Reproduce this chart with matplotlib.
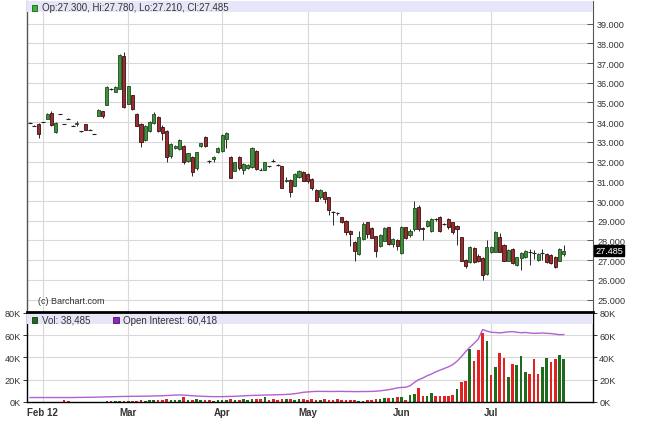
import matplotlib
matplotlib.use('Agg')
import matplotlib.pyplot as plt
import matplotlib.transforms as mtransforms
from matplotlib.patches import Rectangle
import numpy as np

plt.rcParams['font.family'] = ['Liberation Sans', 'DejaVu Sans']

# ---------------- data ----------------
opens = [33.98, 33.82, 33.91, 34.01, 34.17, 34.47, 33.49, 34.42, 33.91, 34.17,
         33.83, 33.90, 33.54, 33.91, 33.62, 33.40, 34.33, 34.55, 34.89, 35.69,
         35.55, 35.70, 37.35, 34.93, 35.38, 34.40, 33.91, 33.11, 33.57, 33.96,
         34.25, 33.74, 33.57, 32.30, 32.68, 32.64, 32.81, 32.05, 32.25, 31.66,
         32.77, 33.25, 32.05, 32.12, 32.48, 32.54, 33.15, 32.25, 31.54, 32.25,
         31.60, 31.68, 31.72, 32.56, 31.60, 31.59, 31.76, 32.05, 31.83, 31.76,
         31.00, 31.05, 30.78, 31.21, 31.49, 31.37, 31.12, 30.58, 30.19, 30.48,
         30.19, 29.46, 29.40, 29.18, 29.00, 28.50, 27.90, 27.31, 28.08, 28.93,
         28.63, 28.21, 27.71, 27.99, 28.67, 27.82, 28.00, 27.37, 28.67, 28.30,
         28.58, 29.69, 28.65, 28.75, 28.50, 29.08, 29.20, 28.84, 29.09, 28.92,
         28.75, 28.16, 27.03, 26.93, 27.60, 27.23, 27.10, 26.30, 27.40, 27.43,
         28.16, 27.77, 26.98, 27.57, 26.76, 27.10, 27.14, 27.43, 27.38, 27.00,
         27.35, 27.31, 27.25, 27.14, 26.98, 27.30]
highs = [34.00, 33.84, 33.95, 34.03, 34.47, 34.55, 34.00, 34.44, 33.93, 34.19,
         33.85, 34.05, 33.56, 33.93, 33.64, 33.42, 34.66, 34.57, 35.82, 35.72,
         35.82, 37.45, 37.55, 35.85, 35.40, 34.45, 33.95, 33.88, 34.05, 34.50,
         34.30, 33.86, 33.62, 32.95, 32.85, 33.15, 32.85, 32.45, 32.30, 32.50,
         32.97, 33.28, 32.10, 32.30, 32.72, 33.40, 33.50, 32.30, 32.00, 32.30,
         31.95, 31.86, 32.72, 32.60, 31.68, 32.00, 31.78, 32.12, 31.90, 31.80,
         31.20, 31.10, 31.40, 31.57, 31.52, 31.40, 31.15, 30.62, 30.60, 30.50,
         30.22, 29.50, 29.45, 29.20, 29.05, 28.55, 27.95, 28.50, 28.95, 28.95,
         28.70, 28.25, 28.32, 28.66, 28.70, 28.10, 28.05, 28.72, 28.70, 28.60,
         30.00, 29.80, 28.70, 29.05, 29.12, 29.15, 29.25, 28.90, 29.12, 28.95,
         28.80, 28.20, 27.05, 27.70, 27.65, 27.30, 27.15, 28.00, 27.70, 28.50,
         28.40, 27.80, 27.57, 27.60, 27.17, 27.40, 27.52, 27.57, 27.50, 27.35,
         27.55, 27.35, 27.30, 27.20, 27.60, 27.78]
lows = [33.96, 33.80, 33.19, 33.99, 34.15, 33.80, 33.45, 34.40, 33.89, 34.15,
        33.81, 33.83, 33.52, 33.60, 33.60, 33.38, 34.30, 34.22, 34.87, 35.62,
        35.52, 35.68, 34.70, 34.90, 34.60, 33.80, 32.73, 33.05, 33.50, 33.90,
        33.50, 33.10, 32.00, 32.20, 32.65, 32.60, 31.90, 32.00, 31.29, 31.60,
        32.75, 32.75, 31.95, 32.00, 32.45, 32.50, 32.68, 31.15, 31.50, 31.60,
        31.37, 31.65, 31.70, 31.60, 31.55, 31.55, 31.74, 31.98, 31.78, 30.65,
        30.98, 30.19, 30.75, 31.18, 31.00, 30.90, 30.55, 29.98, 30.10, 29.90,
        29.29, 28.79, 29.30, 28.88, 28.30, 27.74, 26.98, 27.25, 28.00, 28.10,
        28.10, 27.15, 27.65, 27.95, 27.75, 27.65, 27.50, 27.30, 28.05, 28.20,
        28.50, 28.50, 28.04, 28.70, 28.45, 29.00, 28.45, 28.80, 28.60, 28.35,
        27.77, 26.95, 26.60, 26.85, 26.85, 26.90, 26.00, 26.25, 27.35, 27.40,
        27.40, 26.95, 26.95, 26.80, 26.70, 26.52, 27.10, 26.76, 27.05, 26.95,
        27.00, 26.85, 26.80, 26.60, 26.95, 27.21]
closes = [33.98, 33.82, 33.40, 34.01, 34.42, 33.86, 33.96, 34.42, 33.91, 34.17,
          33.83, 33.95, 33.54, 33.62, 33.62, 33.40, 34.64, 34.30, 35.80, 35.69,
          35.77, 37.41, 34.76, 35.82, 34.67, 33.83, 32.98, 33.83, 34.00, 34.42,
          33.57, 33.45, 32.22, 32.89, 32.80, 33.10, 31.97, 32.42, 31.49, 32.47,
          32.94, 32.78, 32.05, 32.22, 32.69, 33.35, 33.45, 31.19, 31.97, 31.66,
          31.90, 31.83, 32.68, 31.63, 31.60, 31.97, 31.76, 32.05, 31.83, 30.68,
          31.05, 30.45, 31.37, 31.54, 31.04, 31.04, 30.65, 30.02, 30.58, 30.10,
          29.56, 29.46, 29.40, 28.92, 28.42, 28.35, 27.46, 28.20, 28.84, 28.33,
          28.15, 27.48, 28.28, 28.62, 27.82, 28.05, 27.70, 28.67, 28.11, 28.50,
          29.64, 28.58, 28.60, 29.00, 29.08, 29.08, 28.50, 28.84, 28.67, 28.42,
          28.60, 26.98, 26.70, 27.66, 26.89, 26.98, 26.25, 27.66, 27.66, 28.45,
          27.43, 26.98, 27.53, 26.85, 27.14, 27.35, 27.48, 27.43, 27.38, 27.30,
          27.35, 26.89, 26.85, 26.64, 27.57, 27.485]

volume_k = [0, 0, 0, 0, 0, 0, 0, 0, 1.5, 1.0,
            0.2, 0, 0.2, 0, 0, 0, 0.3, 0, 0.8, 0.6,
            0.5, 0.8, 1.0, 0.8, 0.6, 1.0, 1.5, 1.2, 1.8, 1.5,
            2.0, 1.5, 2.5, 1.8, 2.0, 2.2, 4.5, 2.0, 1.5, 2.5,
            1.8, 2.0, 1.5, 1.0, 1.5, 2.0, 1.5, 2.5, 2.0, 1.8,
            2.5, 2.0, 2.8, 3.0, 2.5, 4.2, 2.0, 2.5, 2.0, 3.0,
            2.5, 2.8, 2.0, 2.5, 3.0, 2.0, 2.5, 1.5, 2.0, 2.8,
            2.0, 1.8, 2.5, 2.0, 2.2, 2.0, 1.5, 0.5, 0.5, 1.5,
            2.0, 2.5, 3.0, 3.5, 3.8, 3.5, 4.5,
            4.8, 1.5, 6.0, 6.9, 12.9, 5.4, 5.4, 8.4, 5.4, 5.4,
            5.4, 5.4, 6.0, 12.0, 17.9, 19.1, 47.3, 36.5, 46.4, 62.2,
            54.7, 23.9, 31.7, 44.3, 39.8, 22.2, 34.4, 33.5, 41.3, 27.2,
            25.5, 38.3, 24.8, 31.7, 39.2, 35.9, 38.9, 42.5, 38.485]
volume_dir = ("RRRRGRGRRR" "RGRRRRGRGR" "GGRGRRRGGG" "RRRGGGRGRG" "GRRGGGGRGR"
              "GGGRRGRRRR" "GRGGRRRRGR" "RRRRRRRGGR" "RRGGRGR"
              "GRGGRRGGRR" "RRRGRRGRRR" "GRGRRGRGGG" "RRRGGRRGG")
open_interest_k = [4.0, 4.0, 4.0, 4.0, 4.0, 4.0, 4.0, 4.0, 4.0, 4.0, 4.0, 4.1, 4.1, 4.2, 4.2, 4.3,
                   4.4, 4.5, 4.6, 4.7, 4.8, 4.9, 5.0, 5.0, 5.1, 5.1, 5.2, 5.2, 5.3, 5.4, 5.5, 5.6,
                   5.8, 6.0, 6.2, 6.3, 6.2, 5.9, 5.6, 5.4, 5.2, 5.0, 4.9, 4.8, 4.8, 4.8, 4.9, 5.0,
                   5.1, 5.3, 5.5, 5.7, 5.9, 6.0, 6.1, 6.2, 6.3, 6.4, 6.5, 6.6, 6.8, 7.0, 7.4, 8.0,
                   8.7, 9.0, 9.3, 9.5, 9.5, 9.5, 9.4, 9.4, 9.5, 9.5, 9.4, 9.4, 9.3, 9.3, 9.4, 9.4,
                   9.5, 9.7, 10.0, 10.5, 11.0, 11.8, 12.6, 13.1, 13.2, 14.5, 17.5, 20.0, 21.5, 23.5, 25.0, 27.0,
                   28.5, 30.0, 31.5, 33.5, 36.5, 40.5, 45.0, 49.0, 52.5, 56.5, 64.9, 63.5, 62.5, 62.2, 61.9, 62.3,
                   62.8, 63.0, 62.5, 62.0, 62.3, 61.8, 61.5, 61.6, 61.8, 61.5, 61.3, 60.8, 60.3, 60.418]

month_ticks = [3, 23, 45, 65, 87, 108]
month_labels = ['Feb 12', 'Mar', 'Apr', 'May', 'Jun', 'Jul']
price_ticks = list(range(25, 40))
vol_ticks = [0, 20, 40, 60, 80]
last_bar = "Op:27.300, Hi:27.780, Lo:27.210, Cl:27.485"
last_close = 27.485
vol_legend = "Vol: 38,485"
oi_legend = "Open Interest: 60,418"

# ---------------- layout ----------------
W, H = 645, 427
fig = plt.figure(figsize=(W / 100, H / 100), dpi=100)
fig.patch.set_facecolor('white')

L, R = 27, 593
main_top, main_bot = 2, 313
vol_top, vol_bot = 313, 403
ax = fig.add_axes([L / W, 1 - main_bot / H, (R - L) / W, (main_bot - main_top) / H])
axv = fig.add_axes([L / W, 1 - vol_bot / H, (R - L) / W, (vol_bot - vol_top) / H], sharex=ax)

n = len(closes)
x = np.arange(n)
xlim = (-0.70, 131.85)
grid_c = '#d9d9d9'
txt_c = '#333333'

# ---------------- price panel ----------------
ax.set_xlim(*xlim)
ax.set_ylim(24.37, 40.15)
for p in price_ticks:
    ax.axhline(p, color=grid_c, lw=0.8, zorder=0)
for t in month_ticks:
    ax.axvline(t, color=grid_c, lw=0.8, zorder=0)

o = np.array(opens); c = np.array(closes); hi = np.array(highs); lo = np.array(lows)
ax.vlines(x, lo, hi, color='#2a2a2a', lw=0.7, zorder=2)
up = c > o
dn = c < o
eq = ~(up | dn)
ax.bar(x[up], (c - o)[up], bottom=o[up], width=0.72, color='#3f8f3f',
       edgecolor='#1d4a1d', linewidth=0.6, zorder=3)
ax.bar(x[dn], (o - c)[dn], bottom=c[dn], width=0.72, color='#9a2e2e',
       edgecolor='#3a1010', linewidth=0.6, zorder=3)
ax.hlines(c[eq], x[eq] - 0.45, x[eq] + 0.45, color='#222222', lw=0.8, zorder=3)

ax.yaxis.tick_right()
ax.set_yticks(price_ticks)
ax.set_yticklabels([f"{p:.3f}" for p in price_ticks])
ax.tick_params(axis='y', direction='in', length=4, pad=3, labelsize=6.6,
               colors='#555555', labelcolor=txt_c, width=0.7)
ax.tick_params(axis='x', which='both', bottom=False, labelbottom=False)
for s in ['top', 'bottom']:
    ax.spines[s].set_visible(False)
ax.spines['left'].set_color('#555555'); ax.spines['left'].set_linewidth(1.0)
ax.spines['right'].set_color('#555555'); ax.spines['right'].set_linewidth(0.8)

band_h = 10.5 / (main_bot - main_top)
ax.add_patch(Rectangle((0, 1 - band_h), 1, band_h, transform=ax.transAxes,
                       facecolor='#e6e6f8', edgecolor='none', zorder=4))
ph = main_bot - main_top
ax.add_patch(Rectangle(((31.7 - L) / (R - L), 1 - 10 / ph), 5.6 / (R - L), 6 / ph,
                       transform=ax.transAxes, facecolor='#33bb33',
                       edgecolor='#1d5a1d', lw=0.6, zorder=5))
ax.text((41.7 - L) / (R - L), 1 - 6.5 / ph, last_bar, transform=ax.transAxes,
        fontsize=7, color=txt_c, va='center', ha='left', zorder=6)
ax.text((37.7 - L) / (R - L), (main_bot - 301.7) / ph, "(c) Barchart.com",
        transform=ax.transAxes, fontsize=6.5, color=txt_c, va='center', ha='left')

trans = mtransforms.blended_transform_factory(ax.transAxes, ax.transData)
ax.text(1.0 + 2.5 / (R - L), last_close, f"{last_close:.3f}", transform=trans,
        fontsize=6.6, color='white', va='center', ha='left', zorder=7,
        bbox=dict(boxstyle='square,pad=0.12', facecolor='black', edgecolor='black'),
        clip_on=False)

# ---------------- volume panel ----------------
axv.set_ylim(0, 80.6)
for v in vol_ticks[1:]:
    axv.axhline(v, color=grid_c, lw=0.8, zorder=0)
for t in month_ticks:
    axv.axvline(t, color=grid_c, lw=0.8, zorder=0)
vcols = ['#1e6b1e' if d == 'G' else '#e02222' for d in volume_dir]
axv.bar(x, volume_k, width=0.62, color=vcols, linewidth=0, zorder=2)
axv.plot(x, open_interest_k, color='#b061d2', lw=1.0, zorder=3)

axv.set_yticks(vol_ticks)
axv.set_yticklabels([f"{v}K" for v in vol_ticks])
axv.tick_params(axis='y', left=True, right=True, labelleft=True, labelright=True,
                direction='out', length=3, pad=1.5, labelsize=6.6,
                colors='#333333', labelcolor=txt_c, width=0.7)
axv.set_xticks(month_ticks)
axv.set_xticklabels(month_labels, fontweight='bold', fontsize=7, color=txt_c)
axv.tick_params(axis='x', length=0, pad=3.5)
axv.set_xlim(*xlim)
for s in ['left', 'right', 'bottom']:
    axv.spines[s].set_color('black'); axv.spines[s].set_linewidth(1.0)
axv.spines['top'].set_color('black'); axv.spines['top'].set_linewidth(2.0)
axv.spines['top'].set_zorder(10)

vh = vol_bot - vol_top
vband = 12 / vh
axv.add_patch(Rectangle((0, 1 - vband), 1, vband, transform=axv.transAxes,
                        facecolor='#e6e6f8', edgecolor='none', zorder=4))
axv.add_patch(Rectangle(((31.7 - L) / (R - L), 1 - 11 / vh), 5.6 / (R - L), 5.8 / vh,
                        transform=axv.transAxes, facecolor='#1f6b1f',
                        edgecolor='#0f3a0f', lw=0.6, zorder=5))
axv.text((41.7 - L) / (R - L), 1 - 7.5 / vh, vol_legend, transform=axv.transAxes,
         fontsize=7, color=txt_c, va='center', ha='left', zorder=6)
axv.add_patch(Rectangle(((113 - L) / (R - L), 1 - 11 / vh), 5.6 / (R - L), 5.8 / vh,
                        transform=axv.transAxes, facecolor='#8a2bb8',
                        edgecolor='#4a1070', lw=0.6, zorder=5))
axv.text((122.7 - L) / (R - L), 1 - 7.5 / vh, oi_legend, transform=axv.transAxes,
         fontsize=7, color=txt_c, va='center', ha='left', zorder=6)

fig.savefig('out.png', dpi=100, facecolor='white')
